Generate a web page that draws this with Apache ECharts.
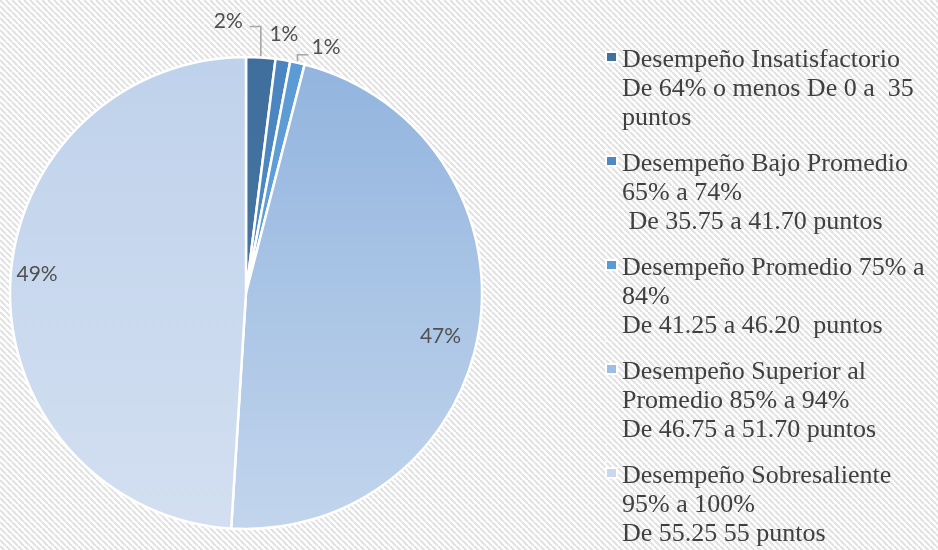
<!DOCTYPE html>
<html>
<head>
<meta charset="utf-8">
<script src="https://cdn.jsdelivr.net/npm/echarts@6/dist/echarts.min.js"></script>
<style>html,body{margin:0;padding:0;background:#fff}#c{width:938px;height:550px}</style>
</head>
<body>
<div id="c"></div>
<script>
// ---- data ----
const categories = [
  'Desempeño Insatisfactorio\nDe 64% o menos De 0 a  35\npuntos',
  'Desempeño Bajo Promedio\n65% a 74%\n De 35.75 a 41.70 puntos',
  'Desempeño Promedio 75% a\n84%\nDe 41.25 a 46.20  puntos',
  'Desempeño Superior al\nPromedio 85% a 94%\nDe 46.75 a 51.70 puntos',
  'Desempeño Sobresaliente\n95% a 100%\nDe 55.25 55 puntos'
];
const values = [2, 1, 1, 47, 49];

// ---- styles ----
const topColors = ['#3f6e9d', '#4a85c0', '#5b9bd5', '#92b4de', '#bfd2eb'];
const bottomColors = ['#4775a2', '#5089c3', '#62a0d8', '#c2d5ed', '#d3dff1'];
const legendColors = ['#41719f', '#4f88c3', '#5b9bd5', '#9dbde4', '#c9d8ee'];
const serifFont = 'Liberation Serif';

function grad(i) {
  return new echarts.graphic.LinearGradient(0, 0, 0, 1, [
    { offset: 0, color: topColors[i] },
    { offset: 1, color: bottomColors[i] }
  ]);
}

// background hatch pattern
const pc = document.createElement('canvas');
pc.width = 6; pc.height = 6;
const g = pc.getContext('2d');
g.fillStyle = '#ffffff';
g.fillRect(0, 0, 6, 6);
g.strokeStyle = '#e2e2e2';
g.lineWidth = 2.2;
g.beginPath();
[-6, 0, 6].forEach(function (k) { g.moveTo(k, 0); g.lineTo(k + 6, 6); });
g.stroke();

const chart = echarts.init(document.getElementById('c'));

const seriesData = categories.map(function (name, i) {
  const d = { name: name, value: values[i], itemStyle: { color: grad(i) } };
  if (i < 3) {
    d.label = { position: 'outside' };
    d.labelLine = { show: true, length: 4, length2: 6, lineStyle: { color: '#a6a6a6', width: 1.6, opacity: i === 1 ? 0 : 1 } };
  } else {
    d.label = { position: 'inside' };
    d.labelLine = { show: false };
  }
  return d;
});

const legendIcon = 'path://M0,6 L11,6 L11,16 L0,16 Z M0,0 L0.01,0 L0,0.01 Z M0,87 L0.01,87 L0,86.99 Z';
const legendText = {
  fontFamily: serifFont,
  fontSize: 26,
  lineHeight: 29,
  color: '#404040'
};

chart.setOption({
  backgroundColor: { image: pc, repeat: 'repeat' },
  animation: false,
  textStyle: { fontFamily: serifFont },
  legend: {
    orient: 'vertical',
    left: 600,
    top: 40,
    height: 620,
    itemWidth: 11,
    itemHeight: 87,
    itemGap: 15,
    icon: legendIcon,
    selectedMode: false,
    data: categories.map(function (n, i) {
      return { name: n, itemStyle: { color: legendColors[i] }, textStyle: legendText };
    }),
    textStyle: legendText
  },
  series: [{
    type: 'pie',
    center: [246, 293],
    radius: 236,
    startAngle: 90,
    clockwise: true,
    avoidLabelOverlap: false,
    itemStyle: { borderColor: '#ffffff', borderWidth: 2.5 },
    label: {
      formatter: function (p) { return Math.round(p.percent) + '%'; },
      fontFamily: 'Lato',
      fontSize: 21,
      color: '#505050'
    },
    labelLayout: function (p) {
      const i = p.dataIndex;
      if (i === 3) return { dx: 75, dy: 24 };
      if (i === 4) return { dx: -88, dy: -15 };
      const pts = p.labelLinePoints;
      if (!pts) return {};
      const x0 = pts[0][0], y0 = pts[0][1];
      if (i === 0) {
        return {
          x: x0 - 18, y: y0 - 36, align: 'right', verticalAlign: 'middle',
          labelLinePoints: [[x0, y0], [x0, y0 - 31], [x0 - 11, y0 - 31]]
        };
      }
      if (i === 1) {
        return {
          x: x0 + 1, y: y0 - 26, align: 'center', verticalAlign: 'middle',
          labelLinePoints: [[x0, y0], [x0, y0], [x0, y0]]
        };
      }
      return {
        x: x0 + 14, y: y0 - 15, align: 'left', verticalAlign: 'middle',
        labelLinePoints: [[x0, y0], [x0, y0 - 8], [x0 + 11, y0 - 8]]
      };
    },
    data: seriesData
  }]
});
</script>
</body>
</html>
